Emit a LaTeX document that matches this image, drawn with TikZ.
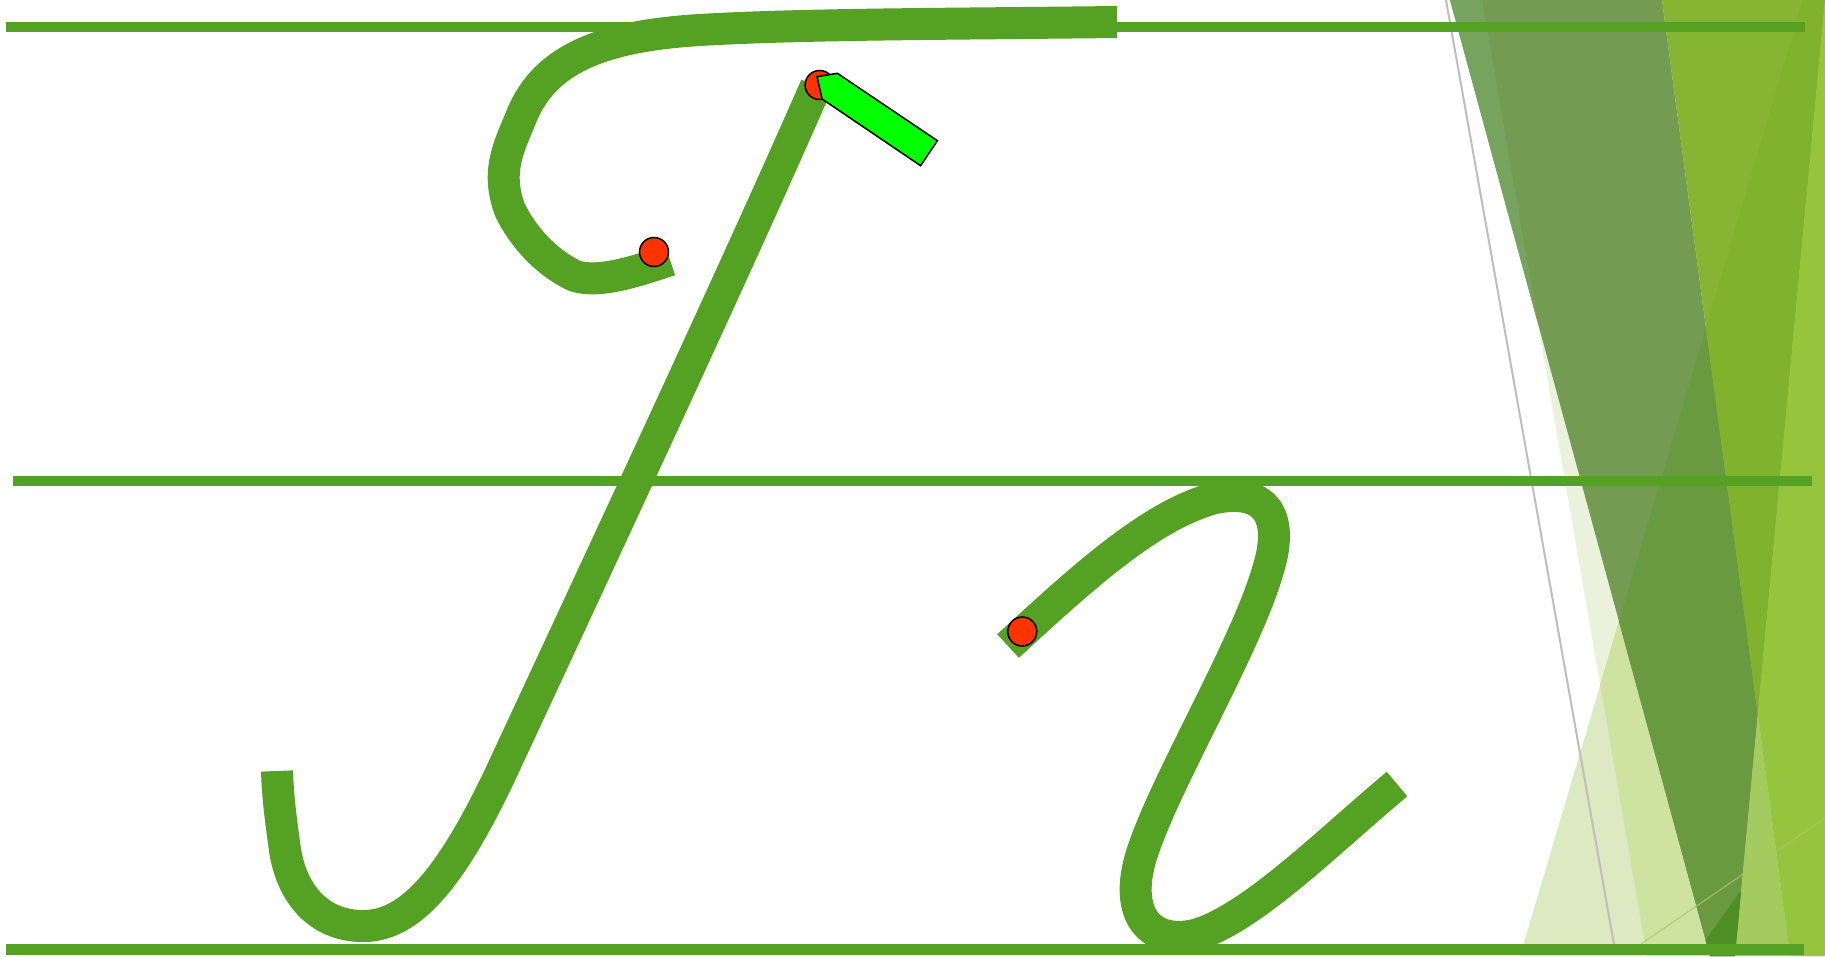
\documentclass[tikz,border=0pt]{standalone}
\definecolor{gl}{RGB}{84,161,35}
\definecolor{cBand}{RGB}{235,242,220}
\definecolor{cPale}{RGB}{221,233,192}
\definecolor{cBandPale}{RGB}{207,227,160}
\definecolor{cDark}{RGB}{115,156,82}
\definecolor{cStrip}{RGB}{118,163,94}
\definecolor{cDarkF}{RGB}{106,154,64}
\definecolor{cBright}{RGB}{134,181,52}
\definecolor{cBrightF}{RGB}{128,178,46}
\definecolor{cMix}{RGB}{163,203,94}
\definecolor{cLime}{RGB}{150,196,60}
\definecolor{cPatch}{RGB}{78,143,37}
\definecolor{dotred}{RGB}{255,51,0}
\definecolor{arrgreen}{RGB}{0,255,0}
\tikzset{
  guide/.style={draw=gl, line width=10.5pt, line cap=butt},
  letter/.style={draw=gl, line width=32pt, line cap=butt, line join=round},
  reddot/.style={circle, fill=dotred, draw=black, line width=1.5pt, minimum size=29pt, inner sep=0pt},
  arrowshape/.style={fill=arrgreen, draw=black, line width=1.5pt, line join=miter},
  faintline/.style={draw={rgb,255:red,170;green,198;blue,120}, line width=1.3pt, opacity=0.7},
  grayline/.style={draw={rgb,255:red,190;green,190;blue,190}, line width=2pt}
}
\begin{document}
\begin{tikzpicture}[x=1pt,y=-1pt]
\useasboundingbox (0,0) rectangle (1825,956);
\fill[white] (0,0) rectangle (1825,956);
% ---- decorative facets on the right
\fill[cBand] (1482,0) -- (1825,0) -- (1825,956) -- (1647,956) -- cycle;
\fill[cPale] (1803,0) -- (1825,0) -- (1825,956) -- (1520,956) -- cycle;
\fill[cBandPale] (1600.2,684.3) -- (1647,956) -- (1825,956) -- (1825,0) -- (1803,0) -- cycle;
\fill[cDark] (1450,0) -- (1662,0) -- (1757.8,714) -- (1735,956) -- (1710,956) -- cycle;
\fill[cStrip] (1450,0) -- (1482,0) -- (1537.9,323.6) -- cycle;
\fill[cDarkF] (1706,327.5) -- (1618.9,621.5) -- (1710,956) -- (1735,956) -- (1757.8,714) -- cycle;
\fill[cBright] (1662,0) -- (1825,0) -- (1757.8,714) -- cycle;
\fill[cBrightF] (1803,0) -- (1706,327.5) -- (1757.8,714) -- (1825,0) -- cycle;
\fill[cMix] (1757.8,714) -- (1790,956) -- (1735,956) -- cycle;
\fill[cLime] (1825,0) -- (1825,956) -- (1790,956) -- (1757.8,714) -- cycle;
\fill[cPatch] (1705.5,940.3) -- (1740,891.7) -- (1741.1,891.7) -- (1735,956) -- (1710,956) -- cycle;
\draw[faintline] (1641,944) -- (1825,818);
\draw[grayline] (1446,0) -- (1615,950);
% ---- guide lines
\draw[guide] (6,26.8) -- (1805,26.8);
\draw[guide] (13,481) -- (1812,481);
\draw[guide] (6,949.5) -- (1804,949.5);
% ---- letter 1: top bar and loop
\draw[letter] (1117,22) .. controls (950,24) and (800,24) .. (700,30)
  .. controls (600,36) and (545,60) .. (522,115)
  .. controls (510,145) and (495,170) .. (510,210)
  .. controls (522,235) and (545,262) .. (575,276)
  .. controls (600,284) and (640,270) .. (670,260);
% ---- letter 1: main stroke with hook
\draw[letter] (816,86) .. controls (740,260) and (600,560) .. (500,775)
  .. controls (450,880) and (410,925) .. (365,926)
  .. controls (320,927) and (292,895) .. (285,850)
  .. controls (281,820) and (278,800) .. (277,771);
% ---- letter 2
\draw[letter] (1008,646) .. controls (1080,580) and (1150,515) .. (1215,498)
  .. controls (1265,488) and (1285,515) .. (1268,570)
  .. controls (1245,650) and (1160,790) .. (1140,860)
  .. controls (1125,915) and (1150,945) .. (1195,935)
  .. controls (1250,920) and (1330,840) .. (1397,784);
% ---- start markers
\node[reddot] (d1) at (654,252) {};
\node[reddot] (d2) at (819.6,85) {};
\node[reddot] (d3) at (1022.3,631.5) {};
% ---- direction arrow
\draw[arrowshape] (817.1,76.7) -- (837.4,73.3) -- (937.4,140.7) -- (920.6,165.7) -- (822.1,99) -- cycle;
\end{tikzpicture}
\end{document}
